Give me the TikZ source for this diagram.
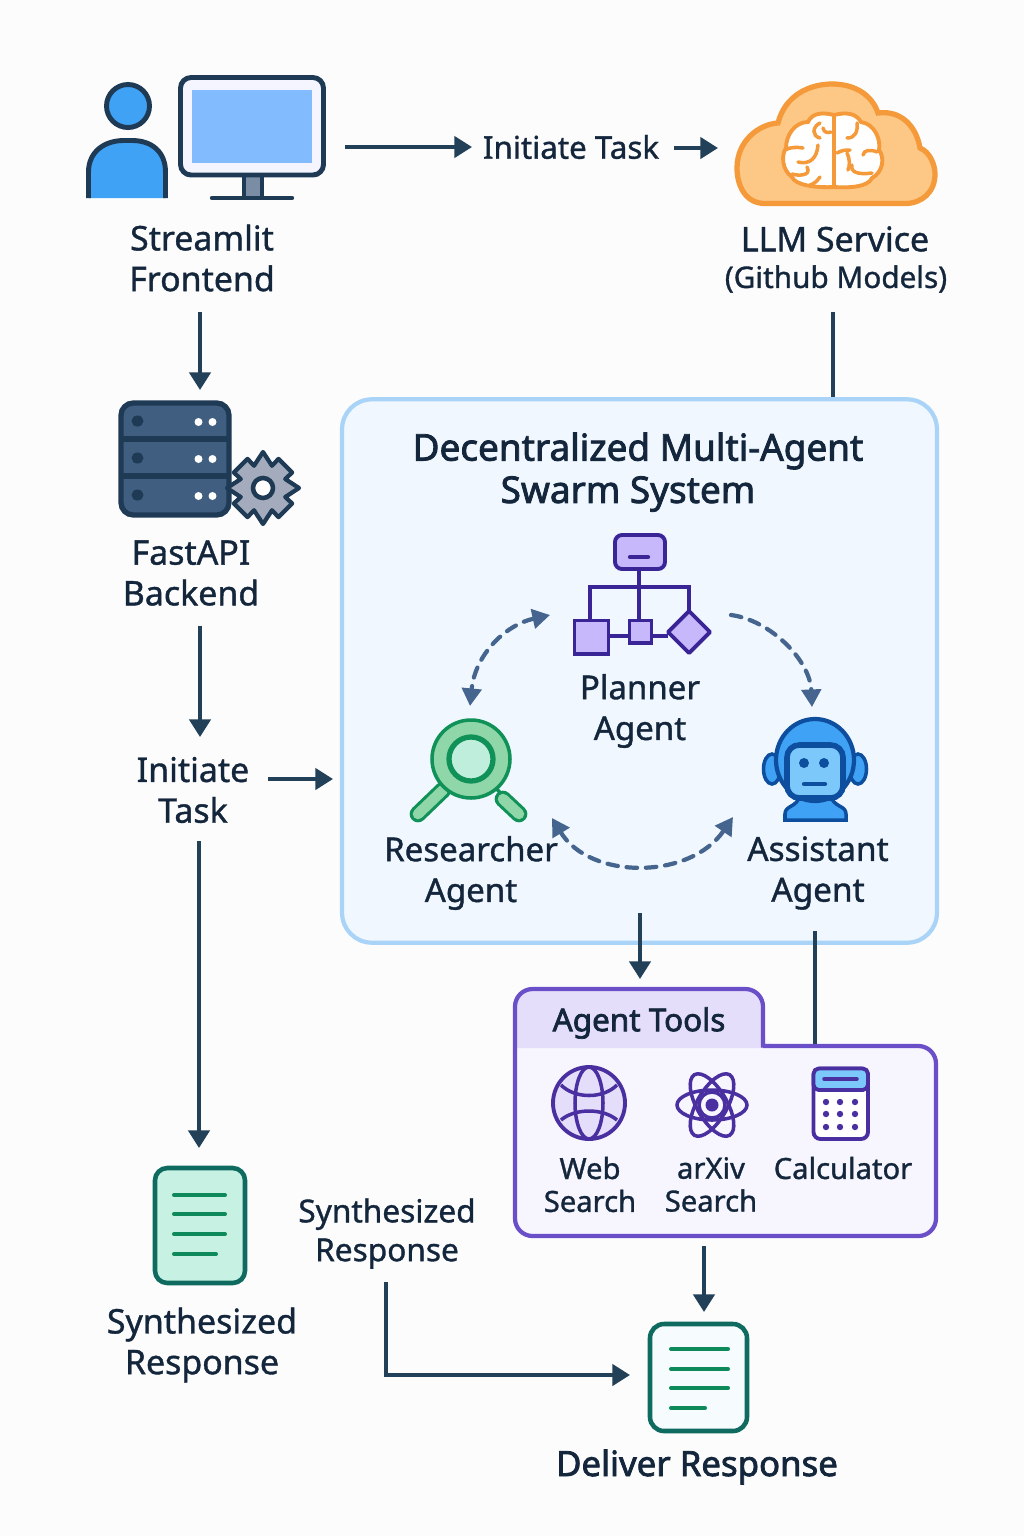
\documentclass[tikz,border=0pt]{standalone}
\usepackage{fontspec}
\setmainfont{Noto Sans}[FakeBold=1.1]
\newfontfamily\medfont{Noto Sans}[FakeBold=2.2]
\usepackage{xcolor}
\usetikzlibrary{arrows.meta,positioning,shapes.geometric,calc}
\definecolor{inkcolor}{HTML}{14263C}
\definecolor{flowcolor}{HTML}{234059}
\definecolor{skyfill}{HTML}{3FA2F5}
\definecolor{screenfill}{HTML}{82BCFF}
\definecolor{cloudline}{HTML}{F49A3A}
\definecolor{cloudfill}{HTML}{FDC785}
\definecolor{rackfill}{HTML}{3F5E80}
\definecolor{rackline}{HTML}{1F3A55}
\definecolor{gearfill}{HTML}{A3ABBD}
\definecolor{swarmline}{HTML}{A9D4F7}
\definecolor{swarmfill}{HTML}{F0F7FE}
\definecolor{plannerline}{HTML}{3A2596}
\definecolor{plannerfill}{HTML}{C6B8FB}
\definecolor{swapcolor}{HTML}{45658F}
\definecolor{lensline}{HTML}{0F9158}
\definecolor{lensring}{HTML}{8FD6A8}
\definecolor{lensglass}{HTML}{BFEEDD}
\definecolor{botline}{HTML}{0D4F9E}
\definecolor{botface}{HTML}{7CC8FB}
\definecolor{toolsline}{HTML}{6A4FC8}
\definecolor{toolsfill}{HTML}{F7F5FE}
\definecolor{toolstab}{HTML}{E4DEFA}
\definecolor{toolicon}{HTML}{4A2FA0}
\definecolor{pageline}{HTML}{0F6B5F}
\definecolor{pagetext}{HTML}{0E8A5A}
\definecolor{pagefill}{HTML}{C7F2E3}
\tikzset{
  lbl/.style={text=inkcolor, align=center, inner sep=0pt, font=\fontsize{19.3}{23.2}\selectfont},
  lblsmall/.style={text=inkcolor, align=center, inner sep=0pt, font=\fontsize{16.6}{18.7}\selectfont},
  flow/.style={flowcolor, line width=2.2pt, -{Triangle[length=10pt,width=12pt]}},
  flowplain/.style={flowcolor, line width=2.2pt},
  swapline/.style={swapcolor, line width=2.4pt, dash pattern=on 6pt off 5pt, line cap=round},
  swap/.style={swapline, {Triangle[length=10pt,width=11pt]}-{Triangle[length=10pt,width=11pt]}},
  swapone/.style={swapline, -{Triangle[length=10pt,width=11pt]}},
  fold/.style={cloudline, line width=2pt, line cap=round},
  txtline/.style={pagetext, line width=2.3pt, line cap=round},
}
\begin{document}
\begin{tikzpicture}[x=0.02cm, y=-0.02cm]
  \useasboundingbox[fill=white!99!black] (0,0) rectangle (1024,1536);

  % --- User and monitor ---
  \draw[rackline, line width=2.8pt, fill=skyfill] (128,106) circle (21.5);
  \draw[rackline, line width=2.8pt, fill=skyfill] (88.5,198) -- (88.5,172) .. controls (88.5,152) and (104,140.5) .. (124,140.5) -- (132,140.5) .. controls (152,140.5) and (165.5,152) .. (165.5,172) -- (165.5,198);
  \draw[rackline, line width=2.6pt, fill=gearfill!60!rackfill] (244,175) rectangle (262,198);
  \draw[rackline, line width=2.8pt, fill=white!96!blue, rounded corners=6pt] (180.5,77.5) rectangle (323.5,175);
  \fill[screenfill] (192,90) rectangle (312,163);
  \draw[rackline, line width=2.5pt, line cap=round] (212,198) -- (292,198);

  % Top row
  \node[lbl] (streamlit) at (202,258) {Streamlit\\Frontend};
  \node[lbl, font=\fontsize{17.8}{23.2}\selectfont] (initTop) at (571,147) {Initiate Task};
  \coordinate (monitorOut) at (345,147);
  \coordinate (initTopIn) at (472,147);
  \coordinate (initTopOut) at (674,148);
  \coordinate (cloudIn) at (718,148);
  \draw[flow] (monitorOut) -- (initTopIn);
  \draw[flow] (initTopOut) -- (cloudIn);

  % --- LLM cloud ---
  \draw[cloudline, line width=3pt, fill=cloudfill] (765,203.5) .. controls (745,203.5) and (737,185) .. (737,168) .. controls (737,140) and (760,124) .. (778,123) .. controls (785,95) and (810,84) .. (832,84) .. controls (855,84) and (872,95) .. (878,113) .. controls (900,110) and (916,125) .. (920,148) .. controls (930,152) and (935,165) .. (935,174) .. controls (935,192) and (922,203.5) .. (905,203.5) -- cycle;
  \draw[cloudline, line width=2.2pt, fill=white] (834,115) .. controls (822,112) and (812,113) .. (808,122) .. controls (795,122) and (786,135) .. (786,148) .. controls (781,155) and (782,170) .. (792,177) .. controls (795,185) and (815,188) .. (834,187) -- cycle;
  \draw[cloudline, line width=2.2pt, fill=white] (834,115) .. controls (846,112) and (856,113) .. (861,122) .. controls (875,124) and (881,140) .. (879,150) .. controls (885,158) and (883,172) .. (872,178) .. controls (868,187) and (850,188) .. (834,187) -- cycle;
  \draw[fold] (820,123) .. controls (812,127) and (812,136) .. (820,138);
  \draw[fold] (823,128) .. controls (824,133) and (828,133) .. (831,132);
  \draw[fold] (785,150) .. controls (790,147) and (797,147) .. (803,148);
  \draw[fold] (818,145) .. controls (817,158) and (810,165) .. (798,162);
  \draw[fold] (792,174) .. controls (798,176) and (812,176) .. (807,167);
  \draw[fold] (820,177) .. controls (817,181) and (814,184) .. (810,185);
  \draw[fold] (857,123) .. controls (858,132) and (855,138) .. (847,138);
  \draw[fold] (837,153) .. controls (842,150) and (846,150) .. (850,150);
  \draw[fold] (847,153) .. controls (850,160) and (850,165) .. (848,170);
  \draw[fold] (877,152) .. controls (870,149) and (864,150) .. (863,155);
  \draw[fold] (852,165) .. controls (850,172) and (858,175) .. (872,173);
  \node[lbl, font=\fontsize{19.3}{23.2}\selectfont] (llm) at (835,239) {LLM Service};
  \node[lblsmall, font=\fontsize{16.9}{18}\selectfont] (github) at (836,279) {(Github Models)};
  \coordinate (llmOut) at (833,312);

  % --- Backend ---
  \coordinate (streamlitOut) at (200,312);
  \coordinate (backendIn) at (200,390);
  \draw[flow] (streamlitOut) -- (backendIn);
  \draw[rackline, line width=3pt, fill=rackfill, rounded corners=7pt] (121,403) rectangle (229,515);
  \foreach \ya in {439,476}
    \draw[rackline, line width=3pt] (121,\ya) -- (229,\ya);
  \foreach \ya in {421,458,495} {
    \fill[rackline] (137.5,\ya) ellipse (6 and 5.5);
    \fill[white] (198.5,\ya+1) circle (4);
    \fill[white] (212.5,\ya+1) circle (4);
  }
  \begin{scope}[shift={(263,488)}]
    \draw[rackline, line width=2.4pt, fill=gearfill, line join=round] (90:36) -- (68:24) -- (62:33) -- (28:33) -- (22:24) -- (0:36) -- (-22:24) -- (-28:33) -- (-62:33) -- (-68:24) -- (-90:36) -- (-112:24) -- (-118:33) -- (-152:33) -- (-158:24) -- (180:36) -- (158:24) -- (152:33) -- (118:33) -- (112:24) -- cycle;
    \draw[rackline, line width=2.6pt, fill=white] (0,0) circle (10);
  \end{scope}
  \node[lbl] (fastapi) at (191,573) {FastAPI\\Backend};
  \coordinate (fastapiOut) at (200,626);
  \coordinate (initLeftIn) at (200,737);
  \draw[flow] (fastapiOut) -- (initLeftIn);
  \node[lbl] (initLeft) at (193,790) {Initiate\\Task};
  \coordinate (initLeftOut) at (199,841);
  \coordinate (replyIn) at (199,1148);
  \draw[flow] (initLeftOut) -- (replyIn);

  % --- Swarm box ---
  \node[draw=swarmline, line width=2.4pt, fill=swarmfill, rounded corners=17pt, minimum width=11.9cm, minimum height=10.87cm, inner sep=0pt] (swarm) at (639.5,671) {};
  \coordinate (initRight) at (268,779);
  \coordinate (swarmIn) at (333,779);
  \draw[flowplain] (llmOut) -- (llmOut |- swarm.north);
  \draw[flow] (initRight) -- (swarmIn);
  \node[lbl, font=\fontsize{21}{23.2}\selectfont\medfont] (swarmTitleA) at (638,451) {Decentralized Multi-Agent};
  \node[lbl, font=\fontsize{21}{23.2}\selectfont\medfont] (swarmTitleB) at (628,494) {Swarm System};

  % Planner icon
  \draw[plannerline, line width=1.8pt] (639,570) -- (639,619);
  \draw[plannerline, line width=1.8pt] (590,620) -- (590,587) -- (689,587) -- (689,611);
  \draw[plannerline, line width=1.8pt] (609,636) -- (668,636);
  \draw[plannerline, line width=2.2pt, fill=plannerfill, rounded corners=4pt] (615,535) rectangle (665,569);
  \draw[plannerline, line width=2.4pt, line cap=round] (630,557) -- (648,557);
  \draw[plannerline, line width=2.2pt, fill=plannerfill] (574.5,620.5) rectangle (608.5,654);
  \draw[plannerline, line width=2.2pt, fill=plannerfill] (629.5,620.5) rectangle (651.5,643);
  \draw[plannerline, line width=2.2pt, fill=plannerfill, line join=round] (689,611) -- (710,632) -- (689,653) -- (668,632) -- cycle;
  \node[lbl, font=\fontsize{18.8}{23.2}\selectfont] (planner) at (640,711) {Planner\\Agent};

  % Researcher icon
  \draw[lensline, line width=9.5pt, line cap=round] (443,790) -- (418,814);
  \draw[lensring, line width=6pt, line cap=round] (443,790) -- (418,814);
  \draw[lensline, line width=2pt] (494,786) -- (505,798);
  \draw[lensline, line width=9.5pt, line cap=round] (503,799) -- (519,814);
  \draw[lensring, line width=6pt, line cap=round] (503,799) -- (519,814);
  \draw[lensline, line width=2pt, fill=lensring] (471,759) circle (39);
  \draw[lensline, line width=3pt, fill=lensglass] (471,759) circle (22);
  \node[lbl, font=\fontsize{18.8}{23.2}\selectfont] (researcher) at (471,873) {Researcher\\Agent};

  % Assistant icon
  \draw[botline, line width=2pt, fill=skyfill] (785,820) -- (785,814) .. controls (785,805) and (797,808) .. (800,795) -- (830,795) .. controls (834,808) and (846,805) .. (846,814) -- (846,820) -- cycle;
  \draw[botline, line width=2pt, fill=skyfill] (772,769) ellipse (8.5 and 15);
  \draw[botline, line width=2pt, fill=skyfill] (858,769) ellipse (8.5 and 15);
  \draw[botline, line width=2.4pt, fill=skyfill] (815,760) ellipse (39 and 41);
  \draw[botline, line width=3.2pt, fill=botface, rounded corners=7pt] (787,745) rectangle (843,798);
  \fill[botline] (804,763) circle (5);
  \fill[botline] (824,763) circle (5);
  \draw[botline, line width=2.4pt, line cap=round] (804,784) -- (825,784);
  \node[lbl, font=\fontsize{19}{23.2}\selectfont] (assistant) at (818,873) {Assistant\\Agent};

  % Exchanges between agents
  \coordinate (plannerL) at (550,615);
  \coordinate (researcherT) at (470,706);
  \coordinate (plannerR) at (731,615);
  \coordinate (assistantT) at (812,707);
  \coordinate (researcherB) at (552,818);
  \coordinate (assistantB) at (733,817);
  \draw[swap] (plannerL) .. controls (505,625) and (475,655) .. (researcherT);
  \draw[swapone] (plannerR) .. controls (770,620) and (810,660) .. (assistantT);
  \draw[swap] (researcherB) .. controls (590,880) and (690,880) .. (assistantB);

  % --- Agent tools ---
  \coordinate (swarmOutA) at (640,913);
  \coordinate (toolsInA) at (640,979);
  \coordinate (swarmOutB) at (815,931);
  \coordinate (toolsInB) at (815,1045);
  \draw[flow] (swarmOutA) -- (toolsInA);
  \draw[flowplain] (swarmOutB) -- (toolsInB);
  \fill[toolsfill, rounded corners=10pt] (515,989) -- (763,989) -- (763,1046) -- (936,1046) -- (936,1236) -- (515,1236) -- cycle;
  \fill[toolstab, rounded corners=10pt] (515,1048) [sharp corners] -- (515,1020) [rounded corners=10pt] -- (515,989) -- (763,989) -- (763,1020) [sharp corners] -- (763,1048) -- cycle;
  \draw[toolsline, line width=2.4pt, rounded corners=10pt] (515,989) -- (763,989) -- (763,1030) [sharp corners] -- (763,1046) -- (800,1046) [rounded corners=10pt] -- (936,1046) -- (936,1236) -- (515,1236) -- cycle;
  \node[lbl, font=\fontsize{17.9}{23.2}\selectfont\medfont] (toolsTitle) at (639,1023) {Agent Tools};

  % Globe
  \draw[toolicon, line width=2.2pt, fill=toolstab] (589,1103) circle (36);
  \draw[toolicon, line width=2pt] (589,1103) ellipse (14 and 36);
  \draw[toolicon, line width=2pt] (561,1085) .. controls (575,1099) and (603,1099) .. (617,1085);
  \draw[toolicon, line width=2pt] (561,1120) .. controls (575,1108) and (603,1108) .. (617,1120);
  \node[lblsmall] (web) at (590,1184.5) {Web\\Search};

  % Atom
  \foreach \tilt in {0,60,120}
    \draw[toolicon, line width=2pt, rotate around={\tilt:(712,1105)}] (712,1105) ellipse (35 and 15);
  \draw[toolicon, line width=2pt] (712,1105) circle (13);
  \fill[toolicon] (712,1105) circle (6.5);
  \node[lblsmall] (arxiv) at (711,1184.5) {arXiv\\Search};

  % Calculator
  \draw[toolicon, line width=2.2pt, fill=white, rounded corners=4pt] (813.5,1068.5) rectangle (868,1139);
  \draw[toolicon, line width=2.2pt, fill=botface, rounded corners=3pt] (813.5,1068.5) rectangle (868,1090);
  \draw[toolicon, line width=2pt, line cap=round] (824,1079) -- (857,1079);
  \foreach \cx in {826,840,855}
    \foreach \cy in {1102,1114,1127}
      \fill[toolicon] (\cx,\cy) circle (3.2);
  \node[lblsmall] (calc) at (843,1168) {Calculator};

  % --- Responses ---
  \draw[pageline, line width=2.6pt, fill=pagefill, rounded corners=7pt] (155,1168) rectangle (245,1283);
  \foreach \ya in {1195,1214,1234}
    \draw[txtline] (174,\ya) -- (225,\ya);
  \draw[txtline] (174,1254) -- (216,1254);
  \node[lbl] (replyLeft) at (202,1345) {Synthesized\\Response};

  \node[lblsmall, font=\fontsize{18}{22.1}\selectfont] (replyMid) at (387,1233.5) {Synthesized\\Response};
  \coordinate (replyMidOut) at (386,1282);
  \coordinate (deliverIn) at (630,1375);
  \draw[flow] (replyMidOut) |- (deliverIn);

  \coordinate (toolsOut) at (704,1246);
  \coordinate (deliverTop) at (704,1312);
  \draw[flow] (toolsOut) -- (deliverTop);
  \draw[pageline, line width=2.6pt, fill=white!90!swarmline, rounded corners=8pt] (650,1324) rectangle (747,1431);
  \foreach \ya in {1349,1369,1388}
    \draw[txtline] (671,\ya) -- (728,\ya);
  \draw[txtline] (671,1408) -- (705,1408);
  \node[lbl, font=\fontsize{19.8}{23.2}\selectfont\medfont] (deliver) at (697,1467) {Deliver Response};
\end{tikzpicture}
\end{document}
